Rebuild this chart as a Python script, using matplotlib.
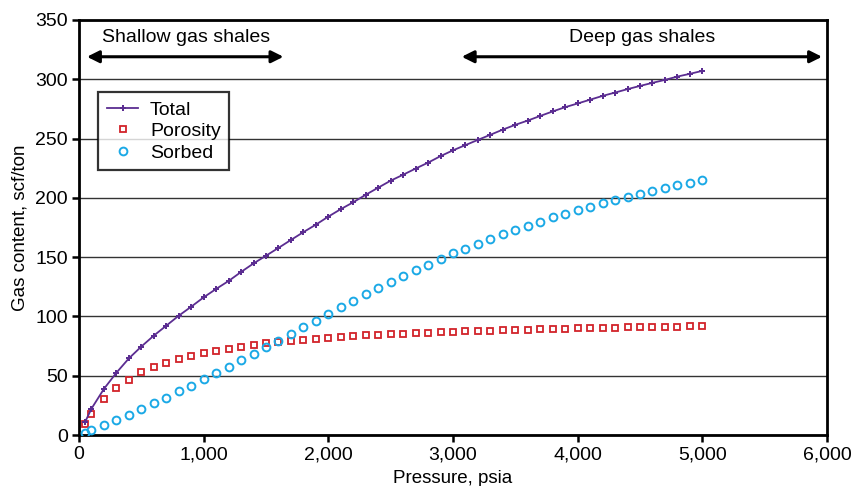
import numpy as np
import matplotlib
matplotlib.use('Agg')
import matplotlib.pyplot as plt

# Pressure points, psia
pressure = [50] + list(range(100, 5001, 100))

# Free gas in pores, scf/ton
porosity = [9.3, 17.7, 30.1, 39.9, 46.4, 52.9, 57.1, 61.0, 63.8, 66.9,
            69.1, 71.2, 72.8, 74.5, 76.0, 77.3, 78.3, 79.2, 80.3, 81.0,
            81.8, 82.6, 83.3, 84.0, 84.6, 85.1, 85.5, 85.9, 86.3, 86.6,
            86.9, 87.3, 87.6, 87.9, 88.2, 88.5, 88.8, 89.1, 89.4, 89.7,
            90.0, 90.2, 90.4, 90.6, 90.8, 91.0, 91.2, 91.4, 91.5, 91.7,
            91.8]

# Adsorbed gas, scf/ton
sorbed = [1.9, 4.2, 8.2, 12.6, 17.1, 21.7, 26.7, 31.2, 36.8, 41.3,
          47.0, 52.0, 57.1, 63.0, 68.7, 73.9, 79.5, 85.3, 90.8, 96.4,
          102.4, 107.9, 113.0, 118.6, 124.0, 129.4, 134.0, 138.8, 143.4, 148.6,
          153.2, 157.2, 161.3, 165.3, 169.4, 173.1, 176.4, 180.0, 183.5, 186.8,
          189.6, 192.6, 195.6, 198.2, 200.9, 203.4, 205.8, 208.1, 210.8, 212.9,
          215.3]

# Total gas content, scf/ton
total = [11.2, 22.2, 38.9, 52.5, 64.6, 74.6, 83.8, 92.2, 100.6, 108.2,
         116.1, 123.2, 129.9, 137.5, 144.7, 151.2, 157.8, 164.5, 171.1, 177.4,
         184.2, 190.5, 196.3, 202.6, 208.6, 214.5, 219.5, 224.7, 229.7, 235.2,
         240.1, 244.5, 248.9, 253.2, 257.6, 261.6, 265.2, 269.1, 272.9, 276.5,
         279.6, 282.8, 286.0, 288.8, 291.7, 294.4, 297.0, 299.5, 302.3, 304.6,
         307.1]

plt.rcParams['font.family'] = ['Liberation Sans', 'DejaVu Sans']

fig = plt.figure(figsize=(8.51, 4.86), dpi=100)
ax = fig.add_axes([79 / 851, 1 - 435 / 486, (827 - 79) / 851, (435 - 20) / 486])

purple = '#5b2d91'
red = '#d2232a'
blue = '#1ba9e6'

ax.plot(pressure, total, color=purple, lw=1.3, marker='P', ms=4,
        markeredgewidth=0, label='Total', zorder=4)
ax.plot(pressure, porosity, ls='none', marker='s', ms=4.2, mfc='none',
        mec=red, mew=1.3, label='Porosity', zorder=3)
ax.plot(pressure, sorbed, ls='none', marker='o', ms=5.6, mfc='none',
        mec=blue, mew=1.4, label='Sorbed', zorder=3)

ax.set_xlim(0, 6000)
ax.set_ylim(0, 350)
ax.set_xticks(range(0, 6001, 1000))
ax.set_xticklabels(['0', '1,000', '2,000', '3,000', '4,000', '5,000', '6,000'])
ax.set_yticks(range(0, 351, 50))
ax.tick_params(axis='both', labelsize=14, width=1.8, length=5, color='black', pad=3)
ax.yaxis.grid(True, color='#333333', lw=1.0)
ax.set_axisbelow(True)
for s in ax.spines.values():
    s.set_linewidth(2.0)
    s.set_color('black')

ax.set_xlabel('Pressure, psia', fontsize=13.5, labelpad=5)
ax.set_ylabel('Gas content, scf/ton', fontsize=13.5, labelpad=5)

leg = ax.legend(loc='upper left', bbox_to_anchor=(0.026, 0.826), fontsize=14,
                frameon=True, fancybox=False, borderpad=0.45, handlelength=1.6,
                labelspacing=0.2, handletextpad=0.6, borderaxespad=0)
leg.get_frame().set_edgecolor('black')
leg.get_frame().set_linewidth(1.6)

# Shallow / deep shale ranges
arrow = dict(arrowstyle='<|-|>', color='black', lw=2.2, mutation_scale=18,
             shrinkA=0, shrinkB=0)
ax.annotate('', xy=(64, 319), xytext=(1640, 319), arrowprops=arrow)
ax.text(860, 335, 'Shallow gas shales', ha='center', va='center', fontsize=14)
ax.annotate('', xy=(3070, 319), xytext=(5960, 319), arrowprops=arrow)
ax.text(4520, 335, 'Deep gas shales', ha='center', va='center', fontsize=14)

fig.savefig('out.png', dpi=100)
